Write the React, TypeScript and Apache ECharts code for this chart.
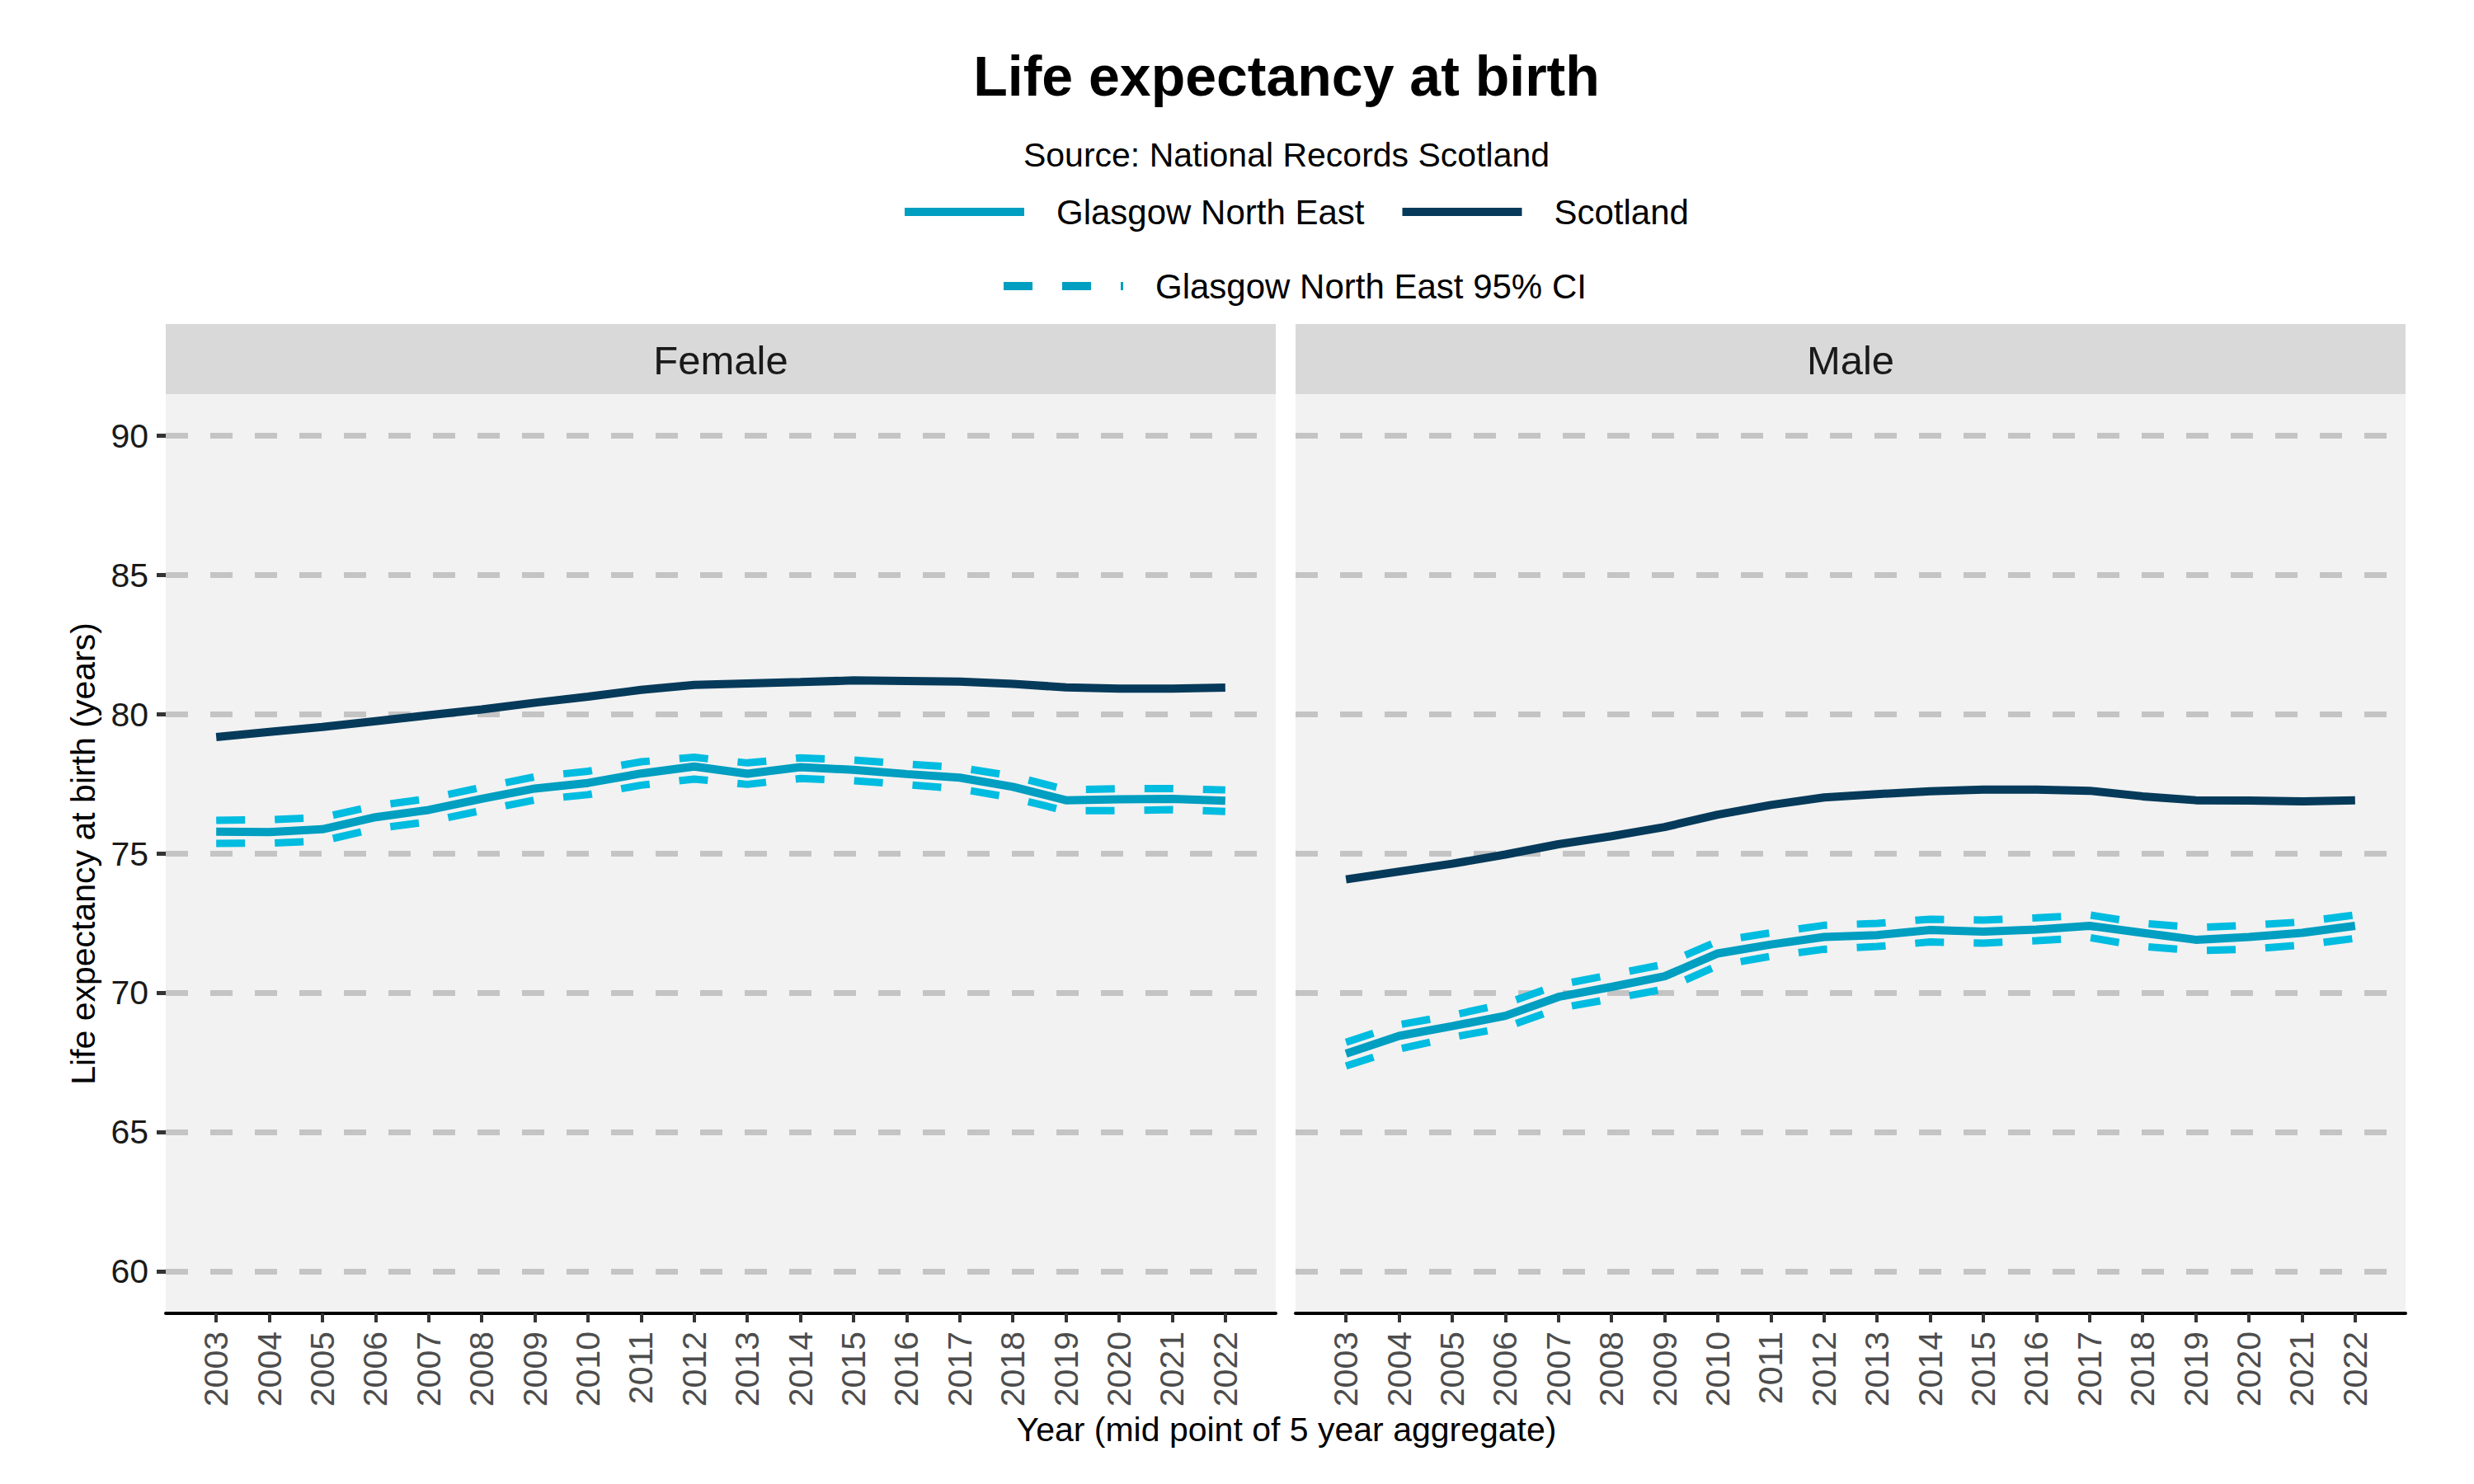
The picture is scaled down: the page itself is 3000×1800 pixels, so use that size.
import { useEffect, useRef } from "react";
import * as echarts from "echarts";

const years = [2003, 2004, 2005, 2006, 2007, 2008, 2009, 2010, 2011, 2012, 2013, 2014, 2015, 2016, 2017, 2018, 2019, 2020, 2021, 2022];
const yTicks = [60, 65, 70, 75, 80, 85, 90];
const panels = ["Female", "Male"];

const femaleScotland = [79.19, 79.37, 79.55, 79.76, 79.97, 80.18, 80.42, 80.64, 80.88, 81.06, 81.11, 81.16, 81.22, 81.2, 81.18, 81.1, 80.97, 80.93, 80.93, 80.96];
const femaleGne = [75.79, 75.78, 75.88, 76.31, 76.57, 76.97, 77.34, 77.54, 77.88, 78.13, 77.87, 78.11, 78.01, 77.86, 77.73, 77.4, 76.92, 76.95, 76.97, 76.9];
const femaleUpper = [76.2, 76.22, 76.3, 76.72, 76.98, 77.38, 77.76, 77.96, 78.3, 78.46, 78.26, 78.44, 78.36, 78.22, 78.09, 77.79, 77.3, 77.33, 77.34, 77.29];
const femaleLower = [75.37, 75.38, 75.46, 75.9, 76.15, 76.55, 76.93, 77.12, 77.46, 77.68, 77.49, 77.7, 77.62, 77.48, 77.33, 77.0, 76.54, 76.55, 76.58, 76.52];

const maleScotland = [74.08, 74.36, 74.64, 74.97, 75.34, 75.63, 75.96, 76.4, 76.75, 77.02, 77.14, 77.24, 77.3, 77.3, 77.26, 77.06, 76.92, 76.91, 76.88, 76.92];
const maleGne = [67.82, 68.46, 68.81, 69.18, 69.86, 70.22, 70.6, 71.42, 71.74, 72.01, 72.08, 72.26, 72.2, 72.28, 72.41, 72.16, 71.91, 72.01, 72.16, 72.41];
const maleUpper = [68.23, 68.86, 69.2, 69.62, 70.29, 70.66, 71.03, 71.86, 72.16, 72.43, 72.5, 72.65, 72.62, 72.7, 72.8, 72.5, 72.35, 72.43, 72.55, 72.8];
const maleLower = [67.38, 67.99, 68.41, 68.76, 69.45, 69.79, 70.14, 70.98, 71.32, 71.57, 71.67, 71.83, 71.79, 71.88, 71.99, 71.67, 71.52, 71.57, 71.72, 71.96];

const FONT = "'Liberation Sans', Arial, Helvetica, sans-serif";
const GNE = "#009EC0";
const CI = "#00BCE0";
const SCOT = "#063A5A";
const GRID_LEFT = [201, 1571];
const GRID_W = 1346;
const GRID_TOP = 478;
const GRID_H = 1115;
const MID = 1560;

const pairs = (vals: number[]) => years.map((y, i) => [y, vals[i]]);

export default function App() {
    const ref = useRef<HTMLDivElement>(null);

    useEffect(() => {
        document.body.style.margin = "0";
        if (!ref.current) return;
        const chart = echarts.init(ref.current, null, { renderer: "svg" });

        const data = [
            { scot: femaleScotland, gne: femaleGne, up: femaleUpper, lo: femaleLower },
            { scot: maleScotland, gne: maleGne, up: maleUpper, lo: maleLower }
        ];

        const series: any[] = [];
        data.forEach((d, p) => {
            const axes = { xAxisIndex: p, yAxisIndex: p, symbol: "none", silent: true };
            series.push({
                ...axes,
                type: "line",
                name: "Scotland",
                data: pairs(d.scot),
                z: 3,
                itemStyle: { color: SCOT },
                lineStyle: { color: SCOT, width: 10 },
                markLine: {
                    silent: true,
                    z: 1,
                    symbol: ["none", "none"],
                    label: { show: false },
                    lineStyle: { color: "#c4c4c4", width: 7, type: [27, 27] },
                    data: yTicks.map(v => ({ yAxis: v }))
                }
            });
            series.push({
                ...axes,
                type: "line",
                name: "Glasgow North East",
                data: pairs(d.gne),
                z: 3,
                itemStyle: { color: GNE },
                lineStyle: { color: GNE, width: 10 }
            });
            [d.up, d.lo].forEach(vals => {
                series.push({
                    ...axes,
                    type: "line",
                    name: "Glasgow North East 95% CI",
                    data: pairs(vals),
                    z: 3,
                    itemStyle: { color: CI },
                    lineStyle: { color: CI, width: 9, type: [35, 36] }
                });
            });
        });

        const legendText = { fontSize: 42, color: "#000", fontFamily: FONT, padding: [0, 0, 0, 34] };
        const legendCommon = {
            padding: 0, itemWidth: 145, itemHeight: 24, itemGap: 41, selectedMode: false,
            textStyle: legendText,
            itemStyle: { opacity: 0 },
            lineStyle: { width: 10 }
        };

        chart.setOption({
            animation: false,
            textStyle: { fontFamily: FONT },
            title: [
                {
                    text: "Life expectancy at birth",
                    left: MID, top: 58, padding: 0, textAlign: "center",
                    textStyle: { fontSize: 68, fontWeight: "bold", color: "#000", fontFamily: FONT }
                },
                {
                    text: "Source: National Records Scotland",
                    left: MID, top: 167, padding: 0, textAlign: "center",
                    textStyle: { fontSize: 41, fontWeight: "normal", color: "#000", fontFamily: FONT }
                }
            ],
            legend: [
                {
                    ...legendCommon,
                    data: ["Glasgow North East", "Scotland"],
                    left: 1092, top: 236
                },
                {
                    ...legendCommon,
                    data: [{ name: "Glasgow North East 95% CI", lineStyle: { color: GNE, width: 10 } }],
                    left: 1212, top: 326
                }
            ],
            grid: GRID_LEFT.map(left => ({
                left, top: GRID_TOP, width: GRID_W, height: GRID_H,
                show: true, backgroundColor: "#f2f2f2", borderWidth: 0
            })),
            xAxis: GRID_LEFT.map((_, p) => ({
                type: "value",
                gridIndex: p,
                min: 2002.05,
                max: 2022.95,
                splitLine: { show: false },
                axisLine: { show: true, onZero: false, lineStyle: { color: "#000", width: 4 } },
                axisTick: { show: true, customValues: years, length: 11, lineStyle: { color: "#333", width: 4 } },
                axisLabel: {
                    customValues: years, rotate: 90, margin: 22, fontSize: 41, color: "#4d4d4d", fontFamily: FONT,
                    formatter: (v: number) => String(Math.round(v))
                }
            })),
            yAxis: GRID_LEFT.map((_, p) => ({
                type: "value",
                gridIndex: p,
                min: 58.5,
                max: 91.5,
                splitLine: { show: false },
                axisLine: { show: false },
                axisTick: { show: p === 0, customValues: yTicks, length: 11, lineStyle: { color: "#333", width: 5 } },
                axisLabel: { show: p === 0, customValues: yTicks, margin: 21, fontSize: 41, color: "#1a1a1a", fontFamily: FONT },
                name: p === 0 ? "Life expectancy at birth (years)" : "",
                nameLocation: "middle",
                nameGap: 80,
                nameTextStyle: { fontSize: 41, color: "#000", fontFamily: FONT }
            })),
            graphic: [
                ...GRID_LEFT.map((left, p) => ({
                    type: "group",
                    children: [
                        { type: "rect", shape: { x: left, y: 393, width: GRID_W, height: 85 }, style: { fill: "#d9d9d9" } },
                        {
                            type: "text", x: left + GRID_W / 2, y: 437,
                            style: { text: panels[p], fontSize: 49, fontFamily: FONT, fill: "#1a1a1a", textAlign: "center", textVerticalAlign: "middle" }
                        }
                    ]
                })),
                {
                    type: "text", x: MID, y: 1734,
                    style: { text: "Year (mid point of 5 year aggregate)", fontSize: 41, fontFamily: FONT, fill: "#000", textAlign: "center", textVerticalAlign: "middle" }
                }
            ],
            series
        });

        return () => chart.dispose();
    }, []);

    return <div ref={ref} style={{ width: 3000, height: 1800 }} />;
}
